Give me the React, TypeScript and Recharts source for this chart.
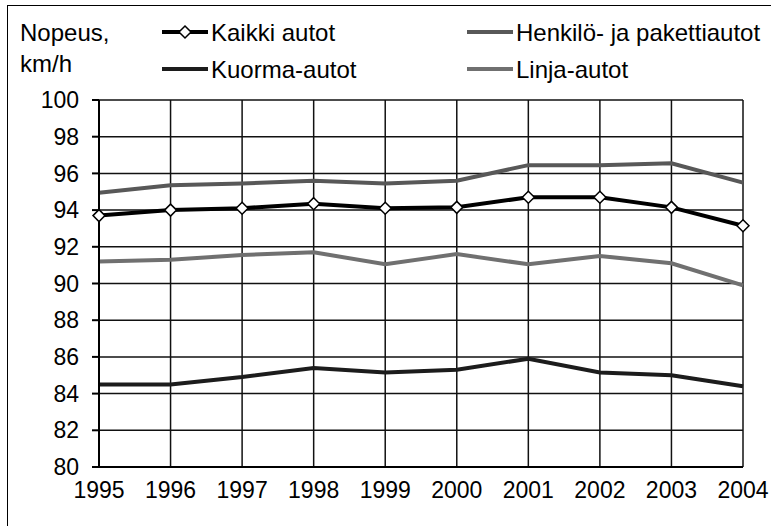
import React from "react";
import {
  LineChart,
  Line,
  XAxis,
  YAxis,
  CartesianGrid
} from "recharts";

const years = ["1995", "1996", "1997", "1998", "1999", "2000", "2001", "2002", "2003", "2004"];
const kaikki = [93.7, 94.0, 94.1, 94.35, 94.1, 94.15, 94.7, 94.7, 94.15, 93.15];
const henkilo = [94.95, 95.35, 95.45, 95.6, 95.45, 95.6, 96.45, 96.45, 96.55, 95.5];
const kuorma = [84.5, 84.5, 84.9, 85.4, 85.15, 85.3, 85.9, 85.15, 85.0, 84.4];
const linja = [91.2, 91.3, 91.55, 91.7, 91.05, 91.6, 91.05, 91.5, 91.1, 89.9];
const yTicks = [80, 82, 84, 86, 88, 90, 92, 94, 96, 98, 100];

const FONT = "'Liberation Sans', Arial, sans-serif";
const TICK_FS = 23;
const LEGEND_FS = 24;

const data = years.map((year, i) => ({
  year,
  kaikki: kaikki[i],
  henkilo: henkilo[i],
  kuorma: kuorma[i],
  linja: linja[i]
}));

// diamond marker for "Kaikki autot"
const Diamond = (props: any) => {
  const { cx, cy } = props;
  if (cx == null || cy == null) return null;
  const r = 6;
  return (
    <polygon
      points={`${cx},${cy - r} ${cx + r},${cy} ${cx},${cy + r} ${cx - r},${cy}`}
      fill="#fff"
      stroke="#000"
      strokeWidth={1.5}
    />
  );
};

const legendItems = [
  { label: "Kaikki autot", color: "#000", marker: true, x: 162, y: 32 },
  { label: "Henkilö- ja pakettiautot", color: "#585858", marker: false, x: 467, y: 32 },
  { label: "Kuorma-autot", color: "#1c1c1c", marker: false, x: 162, y: 69 },
  { label: "Linja-autot", color: "#707070", marker: false, x: 467, y: 69 }
];

const LegendBox = () => (
  <svg width={775} height={90} style={{ position: "absolute", left: 0, top: 0 }}>
    <text x={20} y={41} fontSize={LEGEND_FS} fontFamily={FONT} fill="#000">Nopeus,</text>
    <text x={20} y={72} fontSize={LEGEND_FS} fontFamily={FONT} fill="#000">km/h</text>
    {legendItems.map(item => (
      <g key={item.label}>
        <line
          x1={item.x}
          x2={item.x + 46}
          y1={item.y}
          y2={item.y}
          stroke={item.color}
          strokeWidth={4}
        />
        {item.marker && <Diamond cx={item.x + 23} cy={item.y} />}
        <text x={item.x + 49} y={item.y + 9} fontSize={LEGEND_FS} fontFamily={FONT} fill="#000">
          {item.label}
        </text>
      </g>
    ))}
  </svg>
);

export default function App() {
  return (
    <div style={{ position: "absolute", left: 0, top: 0, width: 775, height: 526, background: "#fff" }}>
      {/* frame */}
      <div
        style={{
          position: "absolute",
          left: 7,
          top: 5,
          width: 763,
          height: 521,
          borderTop: "1.5px solid #000",
          borderLeft: "1.5px solid #000"
        }}
      />
      <LineChart
        width={775}
        height={526}
        data={data}
        margin={{ top: 100, right: 32, left: 0, bottom: 0 }}
      >
        <CartesianGrid stroke="#111" strokeWidth={1.5} />
        <XAxis
          dataKey="year"
          stroke="#000"
          strokeWidth={2}
          tickLine={false}
          tickSize={0}
          tickMargin={15}
          interval={0}
          tick={{ fill: "#000", fontSize: TICK_FS, fontFamily: FONT }}
          height={59}
        />
        <YAxis
          domain={[80, 100]}
          ticks={yTicks}
          stroke="#000"
          strokeWidth={2}
          width={99}
          tickSize={7}
          tickMargin={13}
          tick={{ fill: "#000", fontSize: TICK_FS, fontFamily: FONT }}
        />
        <Line
          dataKey="henkilo"
          name="Henkilö- ja pakettiautot"
          stroke="#585858"
          strokeWidth={4}
          dot={false}
          isAnimationActive={false}
        />
        <Line
          dataKey="linja"
          name="Linja-autot"
          stroke="#707070"
          strokeWidth={4}
          dot={false}
          isAnimationActive={false}
        />
        <Line
          dataKey="kuorma"
          name="Kuorma-autot"
          stroke="#1c1c1c"
          strokeWidth={4}
          dot={false}
          isAnimationActive={false}
        />
        <Line
          dataKey="kaikki"
          name="Kaikki autot"
          stroke="#000"
          strokeWidth={4}
          dot={<Diamond />}
          isAnimationActive={false}
        />
      </LineChart>
      <LegendBox />
    </div>
  );
}
